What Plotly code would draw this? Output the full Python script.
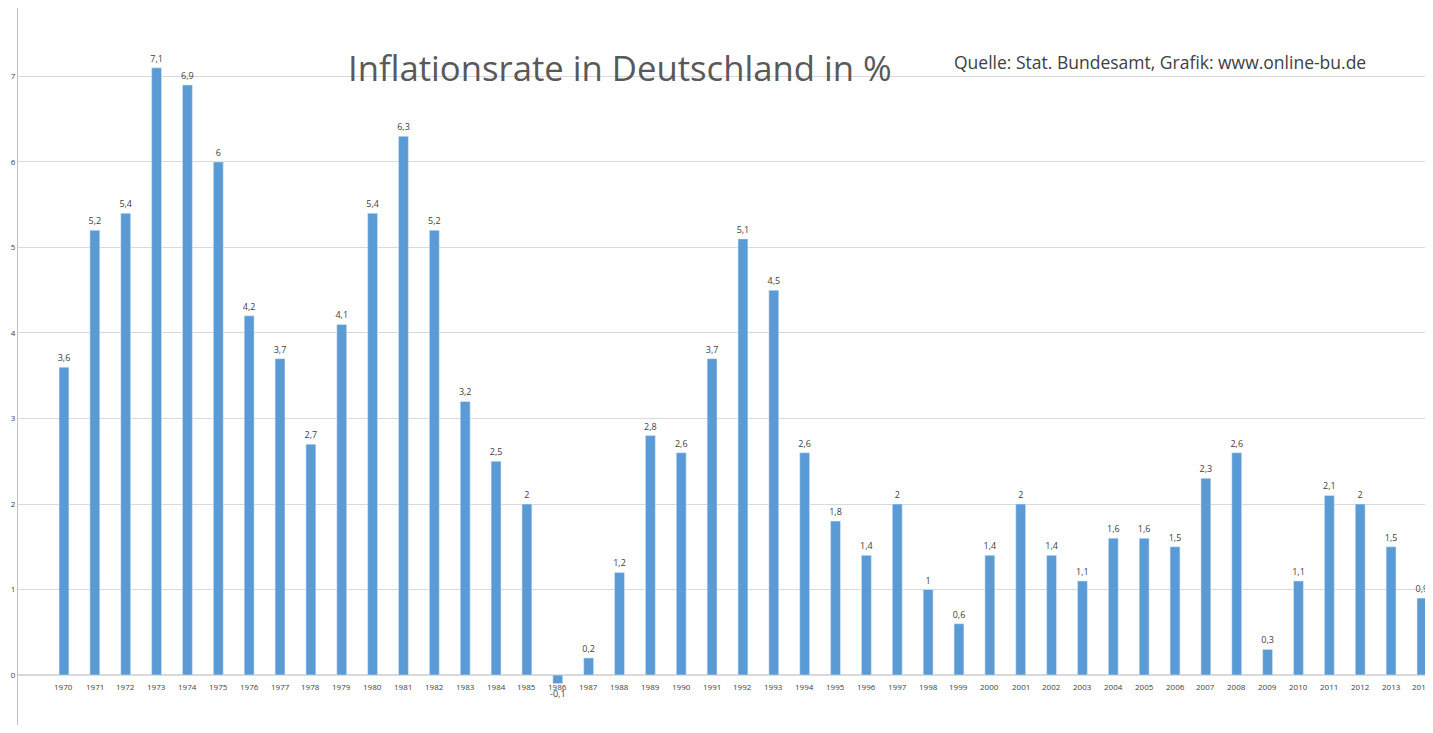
import plotly.graph_objects as go

# Inflationsrate Deutschland, Quelle: Stat. Bundesamt
years = list(range(1970, 2015))
rates = [3.6, 5.2, 5.4, 7.1, 6.9, 6.0, 4.2, 3.7, 2.7, 4.1,
         5.4, 6.3, 5.2, 3.2, 2.5, 2.0, -0.1, 0.2, 1.2, 2.8,
         2.6, 3.7, 5.1, 4.5, 2.6, 1.8, 1.4, 2.0, 1.0, 0.6,
         1.4, 2.0, 1.4, 1.1, 1.6, 1.6, 1.5, 2.3, 2.6, 0.3,
         1.1, 2.1, 2.0, 1.5, 0.9]
y_ticks = [0, 1, 2, 3, 4, 5, 6, 7]

# deutsches Zahlenformat: Komma statt Punkt
labels = [("%g" % v).replace(".", ",") for v in rates]

fig = go.Figure(go.Bar(
    x=years, y=rates, width=0.32,
    marker_color="#5b9bd5",
    text=labels, textposition="outside", cliponaxis=False,
    constraintext="none", textangle=0,
    textfont=dict(size=9, color="#404040"),
))

# Jahreszahlen direkt unter der Nulllinie
for yr in years:
    fig.add_annotation(x=yr, y=0, text=str(yr), showarrow=False,
                       yshift=-11, font=dict(size=8, color="#404040"))

fig.add_annotation(x=0.428, y=0.953, xref="paper", yref="paper",
                   text="Inflationsrate in Deutschland in %", showarrow=False,
                   font=dict(size=34.7, color="#595959"))
fig.add_annotation(x=0.664, y=0.944, xref="paper", yref="paper", xanchor="left",
                   text="Quelle: Stat. Bundesamt, Grafik: www.online-bu.de",
                   showarrow=False, font=dict(size=17.5, color="#404040"))

fig.update_layout(
    width=1417, height=717,
    margin=dict(l=10, r=0, t=0, b=0),
    plot_bgcolor="white", paper_bgcolor="white",
    font=dict(family="Open Sans"),
    showlegend=False,
)
fig.update_xaxes(range=[1968.51, 2014.1], showticklabels=False,
                 showgrid=False, zeroline=False)
fig.update_yaxes(range=[-0.584, 7.80], tickvals=y_ticks,
                 tickfont=dict(size=8, color="#404040"),
                 gridcolor="#d9d9d9", zeroline=True, zerolinecolor="#d9d9d9",
                 showline=True, linecolor="#bfbfbf", ticks="")

fig.write_html("out.html")
